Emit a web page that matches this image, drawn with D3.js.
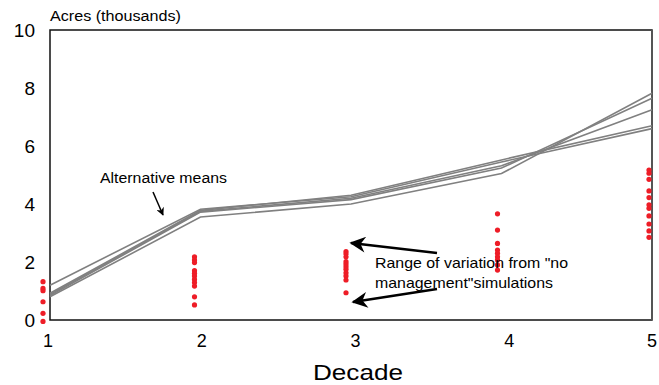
<!DOCTYPE html>
<html>
<head>
<meta charset="utf-8">
<script src="https://cdn.jsdelivr.net/npm/d3@7"></script>
<style>
  body { margin: 0; background: #fff; }
  svg { font-family: "Liberation Sans", Arial, sans-serif; }
</style>
</head>
<body>
<svg id="chart" width="659" height="385"></svg>
<script>
const decades = [1, 2, 3, 4, 5];
const yTicks = [0, 2, 4, 6, 8, 10];

// alternative means (thousand acres), one array per alternative
const alt1 = [1.2, 3.82, 4.25, 5.45, 6.6];
const alt2 = [0.92, 3.78, 4.3, 5.52, 6.7];
const alt3 = [0.88, 3.75, 4.2, 5.32, 7.25];
const alt4 = [0.84, 3.72, 4.15, 5.24, 7.65];
const alt5 = [0.8, 3.55, 4.0, 5.05, 7.82];
const alternatives = [alt1, alt2, alt3, alt4, alt5];

// "no management" simulation results per decade
const noMgmt1 = [1.32, 1.09, 1.01, 0.63, 0.23, -0.05];
const noMgmt2 = [2.18, 2.07, 1.98, 1.7, 1.61, 1.52, 1.4, 1.29, 1.17, 0.8, 0.52];
const noMgmt3 = [2.36, 2.28, 2.18, 2.01, 1.93, 1.84, 1.75, 1.63, 1.52, 1.38, 0.94];
const noMgmt4 = [3.66, 3.1, 2.64, 2.41, 2.3, 2.18, 2.07, 1.9, 1.72];
const noMgmt5 = [5.17, 5.06, 4.85, 4.45, 4.22, 3.97, 3.85, 3.59, 3.31, 3.07, 2.85];
const noMgmt = [noMgmt1, noMgmt2, noMgmt3, noMgmt4, noMgmt5];

const svg = d3.select("#chart");
const plotL = 50, plotR = 652, plotT = 30, plotB = 320;

const x = d3.scaleLinear().domain([1, 5]).range([plotL, plotR]);
const xDots = d3.scaleLinear().domain([1, 5]).range([43, 649]);
const xLabels = d3.scaleLinear().domain([1, 5]).range([48, 663]);
const y = d3.scaleLinear().domain([0, 10]).range([plotB, plotT]);

svg.append("defs").call(defs => {
  defs.append("marker")
    .attr("id", "bighead")
    .attr("viewBox", "0 0 10 10")
    .attr("refX", 9).attr("refY", 5)
    .attr("markerUnits", "userSpaceOnUse")
    .attr("markerWidth", 22).attr("markerHeight", 16)
    .attr("orient", "auto")
    .append("path").attr("d", "M0,0 L10,5 L0,10 L3,5 Z").attr("fill", "#000");
  defs.append("marker")
    .attr("id", "smallhead")
    .attr("viewBox", "0 0 10 10")
    .attr("refX", 9).attr("refY", 5)
    .attr("markerUnits", "userSpaceOnUse")
    .attr("markerWidth", 9).attr("markerHeight", 8)
    .attr("orient", "auto")
    .append("path").attr("d", "M0,0 L10,5 L0,10 L3,5 Z").attr("fill", "#000");
});

// text with the wide look of the original
function label(tx, ty, size, len, str, anchor) {
  return svg.append("text")
    .attr("x", tx).attr("y", ty)
    .attr("font-size", size)
    .attr("text-anchor", anchor || "start")
    .attr("textLength", len)
    .attr("lengthAdjust", "spacingAndGlyphs")
    .text(str);
}

// frame
svg.append("rect")
  .attr("x", plotL).attr("y", plotT)
  .attr("width", plotR - plotL).attr("height", plotB - plotT)
  .attr("fill", "none").attr("stroke", "#111").attr("stroke-width", 1.5);
svg.append("line")
  .attr("x1", plotR).attr("x2", plotR).attr("y1", plotT).attr("y2", plotB)
  .attr("stroke", "#555").attr("stroke-width", 2);

// y axis labels
svg.append("g").attr("transform", `translate(${plotL - 15},0)`)
  .call(d3.axisLeft(y).tickValues(yTicks).tickSize(0).tickPadding(0))
  .call(g => g.select(".domain").remove())
  .call(g => g.selectAll("text").attr("font-size", 19).attr("fill", "#000")
    .attr("font-family", "Liberation Sans, Arial, sans-serif"));

// x axis labels
svg.append("g").attr("transform", `translate(0,${plotB + 14})`)
  .call(d3.axisBottom(xLabels).tickValues(decades).tickFormat(d3.format("d")).tickSize(0).tickPadding(0))
  .call(g => g.select(".domain").remove())
  .call(g => g.selectAll(".tick").attr("transform", d => `translate(${Math.min(xLabels(d), 652)},0)`))
  .call(g => g.selectAll("text").attr("font-size", 18).attr("fill", "#000")
    .attr("font-family", "Liberation Sans, Arial, sans-serif"));

label(358, 380, 22, 90, "Decade", "middle");
label(plotL, 21, 14, 131, "Acres (thousands)");

// alternative lines
const line = d3.line()
  .x((d, i) => x(decades[i]))
  .y(d => y(d));

svg.append("g")
  .selectAll("path")
  .data(alternatives)
  .join("path")
  .attr("d", line)
  .attr("fill", "none")
  .attr("stroke", "#808080")
  .attr("stroke-width", 1.6);

// no management dots
svg.append("g")
  .selectAll("g")
  .data(noMgmt)
  .join("g")
  .each(function(vals, i) {
    d3.select(this).selectAll("circle")
      .data(vals)
      .join("circle")
      .attr("cx", xDots(decades[i]))
      .attr("cy", d => y(d))
      .attr("r", 2.6)
      .attr("fill", "#ee1d27");
  });

// annotations
label(100, 183, 14, 127, "Alternative means");
svg.append("line")
  .attr("x1", 153).attr("y1", 192).attr("x2", 163).attr("y2", 215)
  .attr("stroke", "#000").attr("stroke-width", 1.5)
  .attr("marker-end", "url(#smallhead)");

label(375, 268, 15, 193, "Range of variation from \"no");
label(375, 288, 15, 178, "management\"simulations");

svg.append("line")
  .attr("x1", 437).attr("y1", 253).attr("x2", 351).attr("y2", 243)
  .attr("stroke", "#000").attr("stroke-width", 2.5)
  .attr("marker-end", "url(#bighead)");
svg.append("line")
  .attr("x1", 437).attr("y1", 289).attr("x2", 353).attr("y2", 302)
  .attr("stroke", "#000").attr("stroke-width", 2.5)
  .attr("marker-end", "url(#bighead)");
</script>
</body>
</html>
